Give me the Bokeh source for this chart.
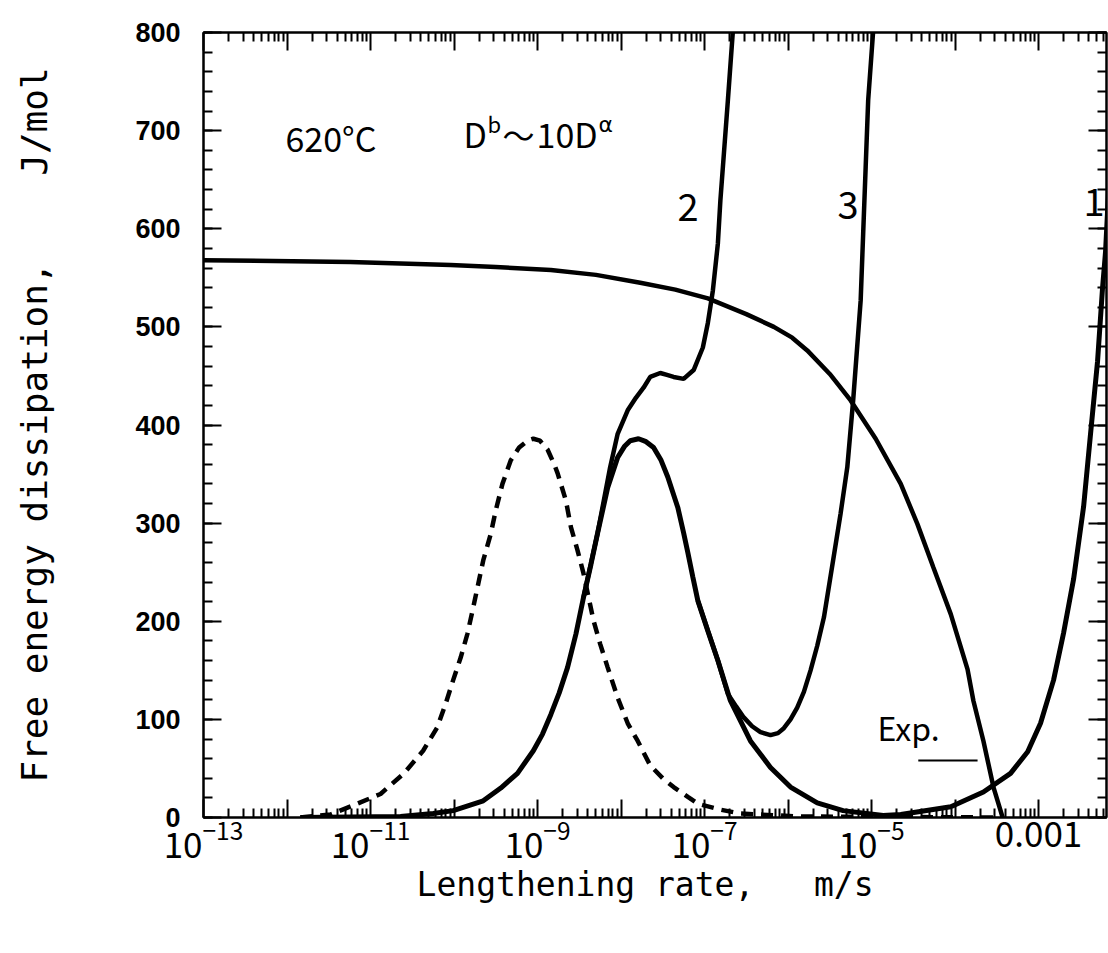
import numpy as np
from bokeh.plotting import figure
from bokeh.models import FixedTicker, LogAxis, LinearAxis, LogTickFormatter, Range1d, Label
from bokeh.embed import file_html
from bokeh.resources import INLINE

# ---------------- data (x as log10 of lengthening rate [m/s], y in J/mol) ----------------
# driving force curve (decreasing)
flat_logx = [-13.0, -11.24, -10.04, -9.5, -8.84, -8.3, -7.77, -7.35, -6.96, -6.5, -6.17, -5.95,
             -5.77, -5.5, -5.25, -4.95, -4.65, -4.45, -4.26, -4.05, -3.85, -3.78, -3.66, -3.54,
             -3.43]
flat_y = [568, 566, 563, 561, 558, 553, 545, 538, 529, 513, 500, 489, 476, 452, 425, 386, 340,
          299, 255, 207, 151, 119, 78, 31, 0]

# curve 1 (solid bell + steep rise at high rate)
c1_logx = [-11.84, -10.64, -10.25, -10.01, -9.65, -9.44, -9.24, -9.05, -8.94, -8.84, -8.74,
           -8.64, -8.54, -8.45, -8.36, -8.28, -8.16, -8.04, -7.96, -7.89, -7.79, -7.70, -7.61,
           -7.52, -7.44, -7.32, -7.25, -7.20, -7.14, -7.08, -6.96, -6.84, -6.69, -6.45, -6.21,
           -5.97, -5.65, -5.34, -4.86, -4.65, -4.05, -3.66, -3.335, -3.13, -2.976, -2.82, -2.70,
           -2.58, -2.46, -2.377, -2.293, -2.234, -2.198, -2.16]
c1_y = [0, 1, 4, 7, 17, 30, 45, 68, 85, 105, 127, 153, 187, 224, 258, 290, 336, 367, 378, 384,
        386, 383, 377, 364, 347, 316, 290, 270, 245, 221, 190, 160, 119, 78, 51, 31, 15, 7, 2,
        3, 11, 26, 45, 67, 96, 140, 188, 243, 317, 391, 465, 539, 576, 640]

# curve 2
c2_logx = [-8.45, -8.28, -8.13, -8.04, -7.92, -7.82, -7.73, -7.65, -7.53, -7.45, -7.37, -7.25,
           -7.13, -7.02, -6.96, -6.90, -6.84, -6.81, -6.72, -6.66]
c2_y = [224, 290, 357, 391, 415, 428, 438, 449, 453, 451, 449, 447, 456, 479, 504, 537, 585,
        629, 731, 802]

# curve 3
c3_logx = [-7.08, -6.84, -6.72, -6.62, -6.53, -6.43, -6.33, -6.21, -6.12, -6.05, -5.97, -5.89,
           -5.81, -5.73, -5.65, -5.57, -5.46, -5.37, -5.29, -5.22, -5.13, -5.10, -5.07, -5.04,
           -4.98]
c3_y = [221, 160, 126, 113, 102, 93, 87, 84, 86, 91, 100, 112, 128, 150, 175, 204, 262, 310,
        357, 425, 527, 595, 663, 731, 802]

# dashed curve
dash_logx = [-11.84, -11.48, -11.16, -10.88, -10.60, -10.37, -10.20, -10.10, -10.01, -9.92,
             -9.84, -9.77, -9.71, -9.65, -9.56, -9.50, -9.42, -9.32, -9.22, -9.12, -9.05,
             -8.97, -8.88, -8.80, -8.76, -8.66, -8.60, -8.52, -8.45, -8.33, -8.25, -8.16, -8.04,
             -7.92, -7.80, -7.65, -7.50, -7.37, -7.20, -7.08, -6.81, -6.57, -5.85, -3.45]
dash_y = [0, 3, 14, 24, 45, 68, 92, 116, 140, 163, 187, 214, 238, 262, 289, 313, 340, 364,
          377, 384, 386, 384, 375, 360, 351, 323, 296, 272, 249, 201, 177, 153, 122, 96, 78,
          53, 40, 31, 21, 14, 8, 4, 1, 0]

# experimental range bar
exp_logx = [-4.44, -3.73]
exp_y = [58, 58]

# axes
x_decades = list(range(-13, -2))          # major ticks each decade
x_labelled = [-13, -11, -9, -7, -5, -3]   # decades that carry a label
y_ticks = [0, 100, 200, 300, 400, 500, 600, 700, 800]

# ---------------- figure ----------------
GOTHIC = "Noto Sans CJK JP"
MONO = "DejaVu Sans Mono"

p = figure(width=1108, height=953, x_axis_type="log",
           x_range=Range1d(1e-13, 10 ** -2.186), y_range=Range1d(0, 800),
           output_backend="svg", toolbar_location=None,
           min_border_left=203, min_border_top=32, min_border_right=2, min_border_bottom=136)
p.grid.visible = False
p.outline_line_color = "black"
p.outline_line_width = 2
p.background_fill_color = "white"
p.border_fill_color = "white"

major_x = [float(f"1e{e}") for e in x_decades]
minor_x = [float(f"{m}e{e}") for e in x_decades for m in range(2, 10)]
x_ticker = FixedTicker(ticks=major_x, minor_ticks=minor_x)
overrides = {float(f"1e{e}"): "" for e in x_decades if e not in x_labelled}

y_ticker = FixedTicker(ticks=y_ticks, minor_ticks=list(range(0, 801, 20)))


def style_ticks(ax):
    ax.axis_line_color = "black"
    ax.axis_line_width = 2
    ax.major_tick_line_color = "black"
    ax.minor_tick_line_color = "black"
    ax.major_tick_line_width = 2
    ax.minor_tick_line_width = 2
    ax.major_tick_in = 18
    ax.major_tick_out = 0
    ax.minor_tick_in = 9
    ax.minor_tick_out = 0


xa = p.xaxis[0]
xa.ticker = x_ticker
xa.formatter = LogTickFormatter(min_exponent=4)
xa.major_label_overrides = overrides
style_ticks(xa)
xa.major_label_text_font = GOTHIC
xa.major_label_text_font_size = "35px"
xa.major_label_text_color = "black"
xa.major_label_standoff = 3
xa.axis_label = "Lengthening rate,\u00a0\u00a0\u00a0m/s\u00a0"
xa.axis_label_text_font = MONO
xa.axis_label_text_font_size = "33px"
xa.axis_label_text_font_style = "normal"
xa.axis_label_text_color = "black"
xa.axis_label_standoff = 4

ya = p.yaxis[0]
ya.ticker = y_ticker
style_ticks(ya)
ya.major_label_text_font = "Liberation Sans"
ya.major_label_text_font_size = "27px"
ya.major_label_text_font_style = "bold"
ya.major_label_text_color = "black"
ya.major_label_standoff = 23
ya.axis_label = "Free energy dissipation,\u00a0\u00a0\u00a0\u00a0J/mol"
ya.axis_label_text_font = MONO
ya.axis_label_text_font_size = "36px"
ya.axis_label_text_font_style = "normal"
ya.axis_label_text_color = "black"
ya.axis_label_standoff = 77

top = LogAxis(ticker=x_ticker, major_label_text_font_size="1px",
              major_label_text_color=None, major_label_standoff=0)
style_ticks(top)
p.add_layout(top, "above")
right = LinearAxis(ticker=y_ticker, major_label_text_font_size="1px",
                   major_label_text_color=None, major_label_standoff=0)
style_ticks(right)
p.add_layout(right, "right")

# ---------------- curves ----------------
def X(lx):
    return 10 ** np.array(lx, dtype=float)

p.line(X(flat_logx), flat_y, line_color="black", line_width=4.5)
p.line(X(c1_logx), c1_y, line_color="black", line_width=5)
p.line(X(c2_logx), c2_y, line_color="black", line_width=4.5)
p.line(X(c3_logx), c3_y, line_color="black", line_width=4.5)
p.line(X(dash_logx), dash_y, line_color="black", line_width=4.5, line_dash="12 8")
p.line(X(exp_logx), exp_y, line_color="black", line_width=2)

# ---------------- annotations ----------------
def lab(lx, y, text, size, font=GOTHIC):
    p.add_layout(Label(x=10 ** lx, y=y, text=text, text_font=font, text_font_size=size,
                       text_baseline="alphabetic", text_align="left", text_color="black"))

lab(-12.018, 693, "620°C", "34px")
lab(-9.886, 697, "D", "34px")
lab(-9.599, 708, "b", "22px")
lab(-9.419, 697, "～", "32px")
lab(-9.012, 697, "10D", "34px")
lab(-8.269, 706, "α", "22px", "DejaVu Sans")
lab(-7.323, 622, "2", "38px")
lab(-5.407, 624, "3", "38px")
lab(-2.461, 627, "1", "38px")
lab(-4.928, 92, "Exp.", "32px")

open("out.html", "w").write(file_html(p, INLINE))
